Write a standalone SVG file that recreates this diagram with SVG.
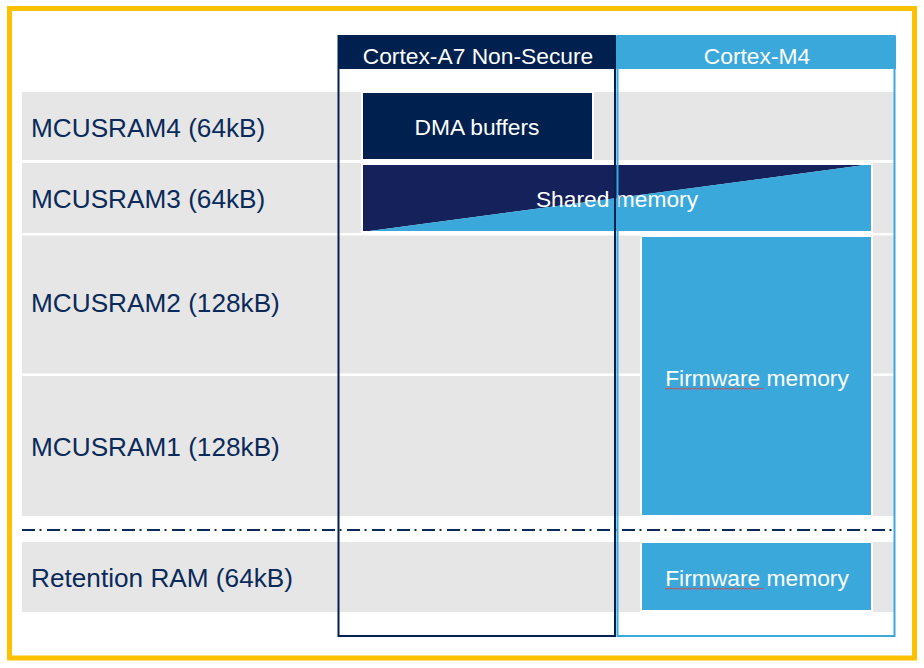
<svg xmlns="http://www.w3.org/2000/svg" width="924" height="668" viewBox="0 0 924 668">
<style>
.row{fill:#e6e6e6}
.lbl{font-family:"Liberation Sans",Arial,sans-serif;font-size:26.2px;fill:#0a2a5a}
.wt{font-family:"Liberation Sans",Arial,sans-serif;font-size:22.8px;fill:#ffffff;text-anchor:middle}
.box{stroke:#ffffff;stroke-width:2}
.sq{fill:none;stroke:#e04040;stroke-width:0.9}
</style>
<defs>
<path id="squig" d="M0,0 l1.5,1.2 l1.5,-1.2 l1.5,1.2 l1.5,-1.2 l1.5,1.2 l1.5,-1.2 l1.5,1.2 l1.5,-1.2 l1.5,1.2 l1.5,-1.2 l1.5,1.2 l1.5,-1.2 l1.5,1.2 l1.5,-1.2 l1.5,1.2 l1.5,-1.2 l1.5,1.2 l1.5,-1.2 l1.5,1.2 l1.5,-1.2 l1.5,1.2 l1.5,-1.2 l1.5,1.2 l1.5,-1.2 l1.5,1.2 l1.5,-1.2 l1.5,1.2 l1.5,-1.2 l1.5,1.2 l1.5,-1.2 l1.5,1.2 l1.5,-1.2 l1.5,1.2 l1.5,-1.2 l1.5,1.2 l1.5,-1.2 l1.5,1.2 l1.5,-1.2 l1.5,1.2 l1.5,-1.2 l1.5,1.2 l1.5,-1.2 l1.5,1.2 l1.5,-1.2 l1.5,1.2 l1.5,-1.2 l1.5,1.2 l1.5,-1.2 l1.5,1.2 l1.5,-1.2 l1.5,1.2 l1.5,-1.2 l1.5,1.2 l1.5,-1.2 l1.5,1.2 l1.5,-1.2 l1.5,1.2 l1.5,-1.2 l1.5,1.2 l1.5,-1.2 l1.5,1.2 l1.5,-1.2 l1.5,1.2 l1.5,-1.2 l1.5,1.2 l1.5,-1.2"/>
</defs>
<rect width="924" height="668" fill="#ffffff"/>
<rect x="9.5" y="8.5" width="905" height="649.5" fill="none" stroke="#ffc000" stroke-width="5"/>

<g id="rows">
<g id="row-mcusram4"><rect class="row" x="22" y="92" width="872" height="68"/><text class="lbl" x="31" y="137">MCUSRAM4 (64kB)</text></g>
<g id="row-mcusram3"><rect class="row" x="22" y="163" width="872" height="70"/><text class="lbl" x="31" y="208">MCUSRAM3 (64kB)</text></g>
<g id="row-mcusram2"><rect class="row" x="22" y="235.5" width="872" height="138"/><text class="lbl" x="31" y="312">MCUSRAM2 (128kB)</text></g>
<g id="row-mcusram1"><rect class="row" x="22" y="376" width="872" height="140"/><text class="lbl" x="31" y="456">MCUSRAM1 (128kB)</text></g>
<g id="row-retention"><rect class="row" x="22" y="542" width="872" height="70"/><text class="lbl" x="31" y="587">Retention RAM (64kB)</text></g>
</g>

<g id="connectors">
<line x1="22" y1="530" x2="895" y2="530" stroke="#0a2a5a" stroke-width="2" stroke-dasharray="13 4.5 2 5.5"/>
</g>

<g id="dma-buffers">
<rect class="box" x="362" y="92" width="231" height="68" fill="#002050"/>
<text class="wt" x="477" y="135">DMA buffers</text>
</g>

<g id="shared-memory">
<polygon points="362,164 872,164 362,232" fill="#14215b"/>
<polygon points="362,232 872,164 872,232" fill="#3aa8db"/>
<rect x="362" y="164" width="510" height="68" fill="none" stroke="#ffffff" stroke-width="2"/>
<text class="wt" x="617" y="207">Shared memory</text>
</g>

<g id="firmware-memory">
<rect class="box" x="641" y="236" width="231" height="280" fill="#3aa8db"/>
<text class="wt" x="757" y="386">Firmware memory</text>
<use href="#squig" x="665" y="388" class="sq"/>
</g>

<g id="firmware-memory-retention">
<rect class="box" x="641" y="542" width="231" height="69" fill="#3aa8db"/>
<text class="wt" x="757" y="586">Firmware memory</text>
<use href="#squig" x="665" y="588" class="sq"/>
</g>

<g id="cortex-a7">
<rect x="338.5" y="36" width="276.5" height="600" fill="none" stroke="#002050" stroke-width="2"/>
<rect x="338" y="36" width="278" height="33" fill="#002050"/>
<text class="wt" x="478" y="64">Cortex-A7 Non-Secure</text>
</g>

<g id="cortex-m4">
<rect x="617.5" y="36" width="277" height="600" fill="none" stroke="#3aa8db" stroke-width="2"/>
<rect x="616" y="36" width="280" height="33" fill="#3aa8db"/>
<text class="wt" x="757" y="64">Cortex-M4</text>
</g>
</svg>
